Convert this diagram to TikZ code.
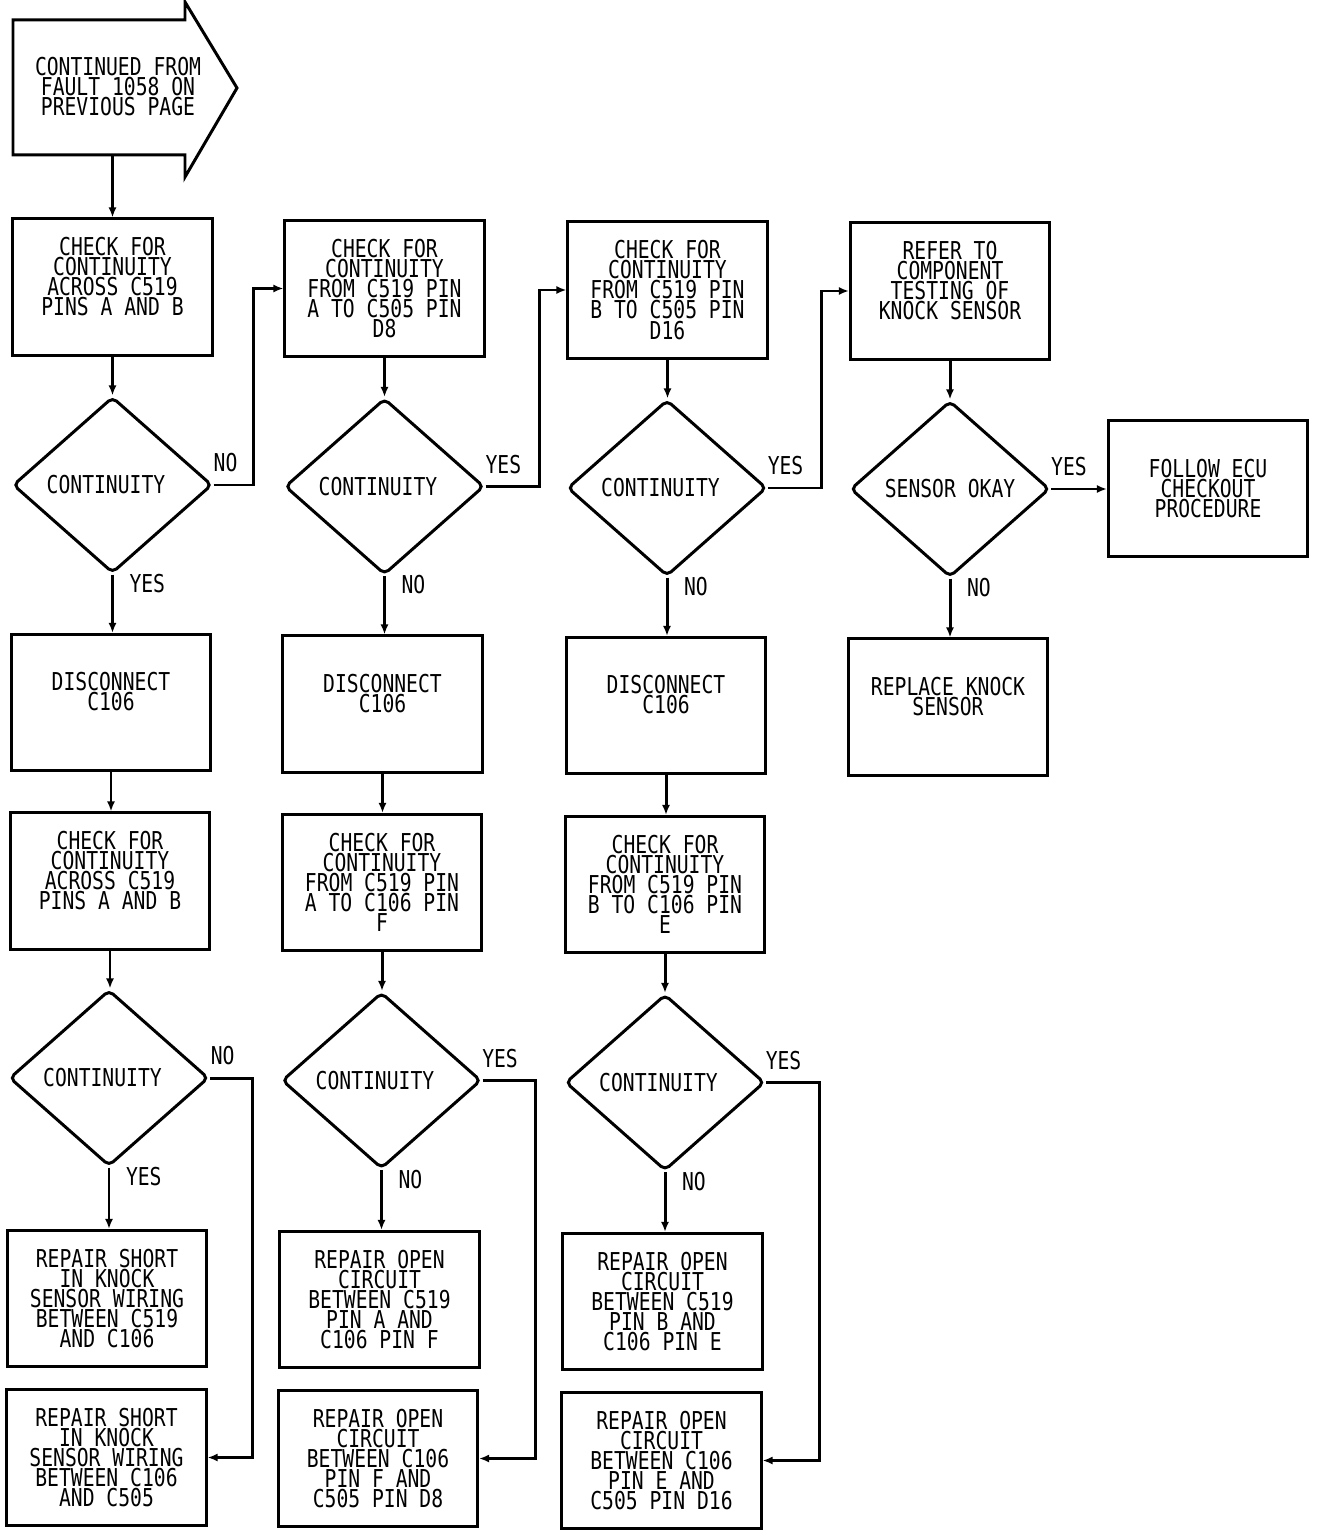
\documentclass[tikz,border=0pt]{standalone}
\usepackage{fontspec}
\setmainfont{DejaVu Sans Mono}[FakeStretch=0.8]
\usetikzlibrary{positioning,arrows.meta,shapes.geometric}

\newcommand{\cont}{CONTINUITY\hspace*{0.13cm}}

\begin{document}
\begin{tikzpicture}[
  x=0.01cm, y=-0.01cm,
  font=\fontsize{7pt}{5.7pt}\selectfont,
  line width=0.85pt,
  box/.style={draw, minimum width=1.99cm, minimum height=1.36cm, align=center, inner sep=0pt},
  par/.style={box, text depth=0.22cm},
  dec/.style={draw, diamond, rounded corners=1.5pt, minimum width=1.99cm, minimum height=1.76cm, inner sep=0pt},
  lbl/.style={inner sep=1pt},
  flecha/.style={-{Latex[length=1mm,width=0.8mm]}}
]
\useasboundingbox (0,0) rectangle (1328,1540);

%% ===== inicio =====
\draw (13,20) -- (185,20) -- (185,2) -- (237,88) -- (185,177) -- (185,155) -- (13,155) -- cycle;
\node[align=center, inner sep=0pt] (ini) at (118,87) {CONTINUED FROM\\FAULT 1058 ON\\PREVIOUS PAGE};
\coordinate (iniout) at (112.5,155);

%% ===== columna 1 =====
\node[par] (a1) at (112.5,287) {CHECK FOR\\CONTINUITY\\ACROSS C519\\PINS A AND B};
\node[dec] (a2) at (112.5,485) {\cont};
\node[par] (a3) at (111,702.5) {DISCONNECT\\C106};
\node[par] (a4) at (110,881) {CHECK FOR\\CONTINUITY\\ACROSS C519\\PINS A AND B};
\node[dec] (a5) at (109,1078) {\cont};
\node[box] (a6) at (107,1298.5) {REPAIR SHORT\\IN KNOCK\\SENSOR WIRING\\BETWEEN C519\\AND C106};
\node[box] (a7) at (106.5,1457.5) {REPAIR SHORT\\IN KNOCK\\SENSOR WIRING\\BETWEEN C106\\AND C505};

%% ===== columna 2 =====
\node[box] (b1) at (384.5,288.5) {CHECK FOR\\CONTINUITY\\FROM C519 PIN\\A TO C505 PIN\\D8};
\node[dec] (b2) at (384.5,486.5) {\cont};
\node[par] (b3) at (382.5,704) {DISCONNECT\\C106};
\node[box] (b4) at (382,882.5) {CHECK FOR\\CONTINUITY\\FROM C519 PIN\\A TO C106 PIN\\F};
\node[dec] (b5) at (381.5,1080.5) {\cont};
\node[box] (b6) at (379.5,1299.5) {REPAIR OPEN\\CIRCUIT\\BETWEEN C519\\PIN A AND\\C106 PIN F};
\node[box] (b7) at (378,1458.5) {REPAIR OPEN\\CIRCUIT\\BETWEEN C106\\PIN F AND\\C505 PIN D8};

%% ===== columna 3 =====
\node[box] (c1) at (667.5,290) {CHECK FOR\\CONTINUITY\\FROM C519 PIN\\B TO C505 PIN\\D16};
\node[dec] (c2) at (667,488) {\cont};
\node[par] (c3) at (666,705.5) {DISCONNECT\\C106};
\node[box] (c4) at (665,884.5) {CHECK FOR\\CONTINUITY\\FROM C519 PIN\\B TO C106 PIN\\E};
\node[dec] (c5) at (665,1082.5) {\cont};
\node[box] (c6) at (662.5,1301.5) {REPAIR OPEN\\CIRCUIT\\BETWEEN C519\\PIN B AND\\C106 PIN E};
\node[box] (c7) at (661.5,1460.5) {REPAIR OPEN\\CIRCUIT\\BETWEEN C106\\PIN E AND\\C505 PIN D16};

%% ===== columna 4 =====
\node[par] (d1) at (950,291) {REFER TO\\COMPONENT\\TESTING OF\\KNOCK SENSOR};
\node[dec] (d2) at (950,489) {SENSOR OKAY};
\node[par] (d3) at (948,707) {REPLACE KNOCK\\SENSOR};
\node[box] (e1) at (1208,488.5) {FOLLOW ECU\\CHECKOUT\\PROCEDURE};

%% ===== conexiones verticales =====
\draw[flecha] (iniout) -- (iniout |- a1.north);
\foreach \k in {a,b,c} {
  \draw[flecha] (\k1.south) -- (\k1.south |- \k2.north);
  \draw[flecha] (\k3.south) -- (\k3.south |- \k4.north);
  \draw[flecha] (\k4.south) -- (\k4.south |- \k5.north);
}
\draw[flecha] (d1.south) -- (d1.south |- d2.north);

\draw[flecha] (a2.south) -- node[lbl, pos=0.15, right=0.12cm] {YES} (a2.south |- a3.north);
\draw[flecha] (a5.south) -- node[lbl, pos=0.15, right=0.12cm] {YES} (a5.south |- a6.north);
\draw[flecha] (b2.south) -- node[lbl, pos=0.15, right=0.12cm] {NO} (b2.south |- b3.north);
\draw[flecha] (b5.south) -- node[lbl, pos=0.15, right=0.12cm] {NO} (b5.south |- b6.north);
\draw[flecha] (c2.south) -- node[lbl, pos=0.15, right=0.12cm] {NO} (c2.south |- c3.north);
\draw[flecha] (c5.south) -- node[lbl, pos=0.15, right=0.12cm] {NO} (c5.south |- c6.north);
\draw[flecha] (d2.south) -- node[lbl, pos=0.15, right=0.12cm] {NO} (d2.south |- d3.north);

%% ===== ramas laterales =====
\draw[flecha] (a2.east) -- node[lbl, pos=0.3, above=0.08cm] {NO} ++(40,0) |- (b1.west);
\draw[flecha] (b2.east) -- node[lbl, pos=0.33, above=0.08cm] {YES} ++(54,0) |- (c1.west);
\draw[flecha] (c2.east) -- node[lbl, pos=0.33, above=0.08cm] {YES} ++(53,0) |- (d1.west);
\draw[flecha] (d2.east) -- node[lbl, pos=0.32, above=0.08cm] {YES} (d2.east -| e1.west);

\draw[flecha] (a5.east) -- node[lbl, pos=0.3, above=0.08cm] {NO} ++(42,0) |- (a7.east);
\draw[flecha] (b5.east) -- node[lbl, pos=0.33, above=0.08cm] {YES} ++(53,0) |- (b7.east);
\draw[flecha] (c5.east) -- node[lbl, pos=0.33, above=0.08cm] {YES} ++(53,0) |- (c7.east);
\end{tikzpicture}
\end{document}
